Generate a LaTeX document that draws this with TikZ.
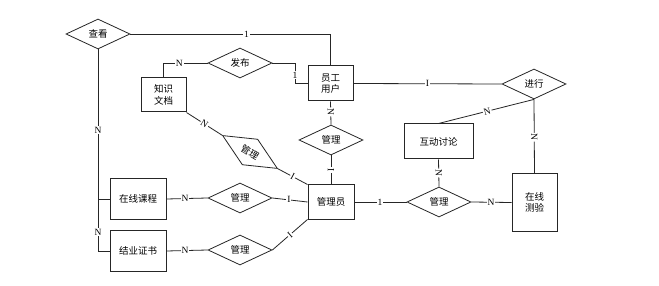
\documentclass[tikz,border=0pt]{standalone}
\usepackage{fontspec}
\setmainfont{Liberation Serif}
\newfontfamily\cjk{Noto Sans CJK SC}
\usetikzlibrary{shapes.geometric}
\tikzset{
  ent/.style={draw=black!85, line width=1pt, align=center, inner sep=0pt,
    font=\cjk\fontsize{9.5}{11.5}\selectfont},
  rel/.style={draw=black!85, line width=0.8pt, diamond, minimum width=64pt, minimum height=30pt,
    inner sep=0pt, font=\cjk\fontsize{9.5}{11.5}\selectfont},
  conn/.style={draw=black!85, line width=0.8pt},
  lab/.style={fill=white, inner sep=1pt, font=\fontsize{9.5}{10}\selectfont},
}
\begin{document}
\begin{tikzpicture}[x=1pt,y=-1pt]
\useasboundingbox[fill=white] (0,0) rectangle (659,286);
% entities
\node[ent, minimum width=45pt, minimum height=35pt] (yg) at (330.5,83.5) {员工\\用户};
\node[ent, minimum width=45pt, minimum height=34pt] (zs) at (163.5,95) {知识\\文档};
\node[ent, minimum width=46pt, minimum height=34pt] (gly) at (331,202) {管理员};
\node[ent, minimum width=69pt, minimum height=35pt] (hd) at (438.5,141.5) {互动讨论};
\node[ent, minimum width=45pt, minimum height=57pt] (cy) at (534.5,202.5) {在线\\测验};
\node[ent, minimum width=56pt, minimum height=40pt] (kc) at (138,199) {在线课程};
\node[ent, minimum width=56pt, minimum height=41pt] (zsh) at (138,251) {结业证书};
% relations
\node[rel] (ck) at (98,34) {查看};
\node[rel] (fb) at (240,63) {发布};
\node[rel, rotate=-31] (glr) at (250,152) {管理};
\node[rel] (glt) at (331,140) {管理};
\node[rel] (jx) at (534,84) {进行};
\node[rel] (glright) at (439,202) {管理};
\node[rel] (glc) at (240,198) {管理};
\node[rel] (glz) at (240,250) {管理};
% helper coordinates
\coordinate (c1) at (295,63);
\coordinate (j1) at (98,199);
% connectors
\draw[conn] (ck.east) -| node[lab, pos=0.29]{1} (yg.north);
\draw[conn] (zs.north) |- node[lab, pos=0.68]{N} (fb.west);
\draw[conn] (fb.east) -- (c1) |- node[lab, pos=0.3]{1} (yg.west);
\draw[conn] (yg.south) -- node[lab, sloped, pos=0.45]{N} (glt.north);
\draw[conn] (glt.south) -- node[lab, sloped, pos=0.5]{I} (gly.north);
\draw[conn] (zs.south east) -- node[lab, sloped, pos=0.5]{N} (glr.west);
\draw[conn] (glr.east) -- node[lab, sloped, pos=0.5]{I} (gly.north west);
\draw[conn] (ck.south) |- node[lab, pos=0.2]{N} node[lab, pos=0.453]{N} (zsh.west);
\draw[conn] (j1) -- (kc.west);
\draw[conn] (kc.east) -- node[lab, pos=0.45]{N} (glc.west);
\draw[conn] (glc.east) -- node[lab, pos=0.47]{I} (gly.west);
\draw[conn] (zsh.east) -- node[lab, pos=0.45]{N} (glz.west);
\draw[conn] (glz.east) -- node[lab, sloped, pos=0.5]{I} (gly.south west);
\draw[conn] (gly.east) -- node[lab, pos=0.49]{1} (glright.west);
\draw[conn] (glright.east) -- node[lab, pos=0.49]{N} (cy.west);
\draw[conn] (hd.south) -- node[lab, sloped, pos=0.5]{N} (glright.north);
\draw[conn] (yg.east) -- node[lab, pos=0.5]{I} (jx.west);
\draw[conn] (hd.north) -- node[lab, sloped, pos=0.51]{N} (jx.south);
\draw[conn] (jx.south) -- node[lab, sloped, pos=0.51]{N} (cy.north);
\end{tikzpicture}
\end{document}
